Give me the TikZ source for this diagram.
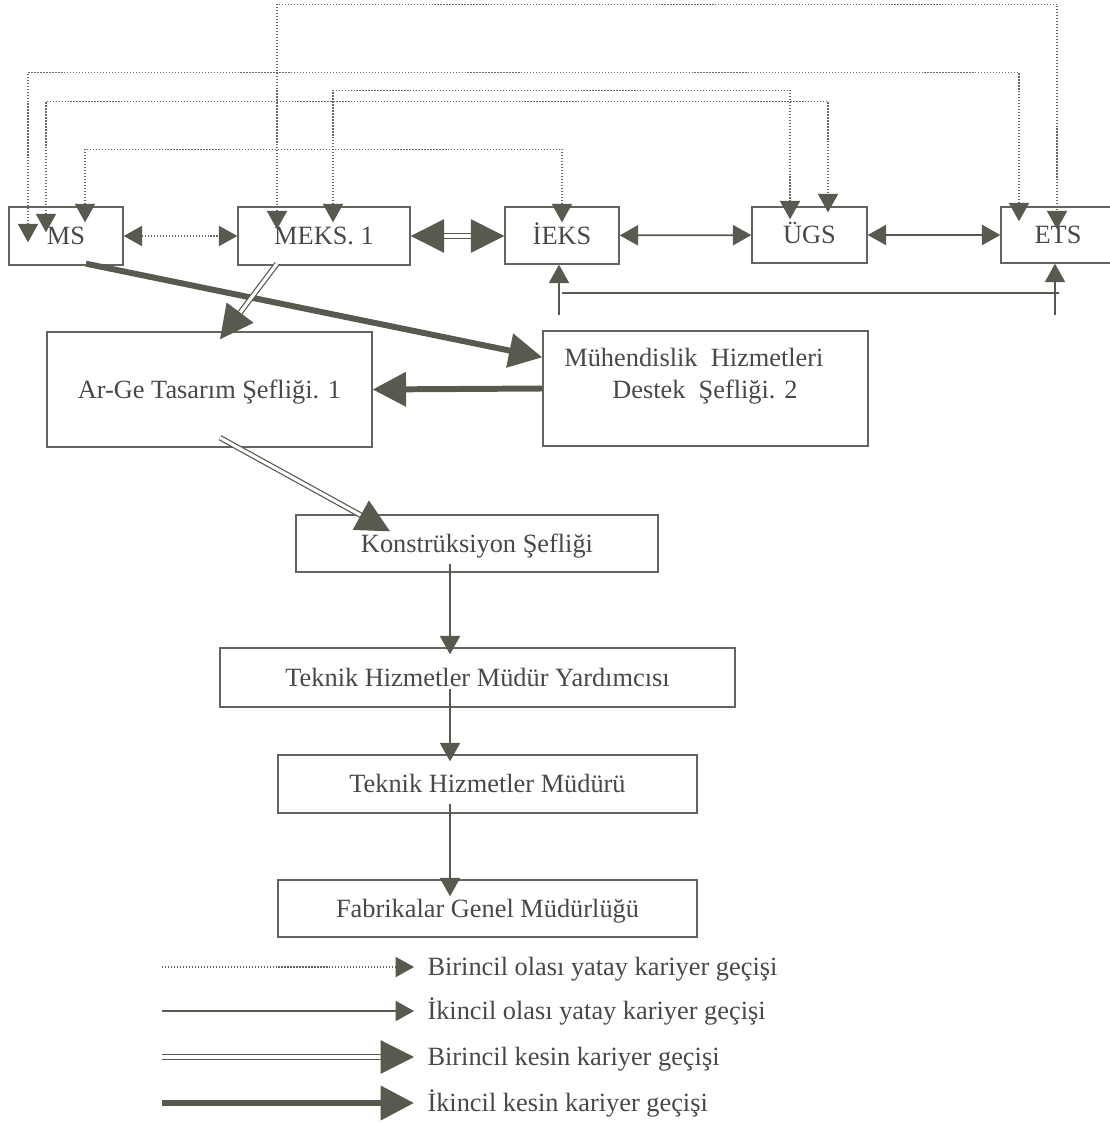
\documentclass[tikz,border=0pt]{standalone}
\usepackage{fontspec}
\setmainfont{Liberation Serif}
\usetikzlibrary{arrows.meta}
\definecolor{boxline}{RGB}{100,100,95}
\definecolor{tipfill}{RGB}{88,90,80}
\definecolor{txtgray}{RGB}{72,72,70}
\definecolor{dotline}{RGB}{105,105,100}
\begin{document}
\begin{tikzpicture}[x=0.02cm,y=-0.02cm,font=\fontsize{15}{18}\selectfont,
		smtri/.tip={Triangle[length=10.5pt,width=11.5pt,color=tipfill]},
		bigtri/.tip={Triangle[length=19pt,width=19pt,color=tipfill]},
		box/.style={draw=boxline,line width=0.8pt,text=txtgray,inner sep=0pt,text height=12pt,text depth=2pt},
		lbl/.style={text=txtgray,inner ysep=0pt,inner xsep=7.5pt,anchor=west,text height=12pt,text depth=2pt},
		dotarr/.style={draw=dotline,line width=0.8pt,dash pattern=on 0.7pt off 1pt},
		thinarr/.style={draw=tipfill,line width=0.8pt},
		dblarr/.style={draw=tipfill,line width=0.7pt,double=white,double distance=1.8pt},
		heavyarr/.style={draw=tipfill,line width=3.4pt}]
		\useasboundingbox (0,0) rectangle (1109,1124);
		\node[box,minimum width=2.28cm,minimum height=1.16cm] (ms) at (66,236) {MS};
		\node[box,minimum width=3.44cm,minimum height=1.16cm] (meks) at (324,236) {MEKS. 1};
		\node[box,minimum width=2.28cm,minimum height=1.14cm] (ieks) at (562,235.5) {İEKS};
		\node[box,minimum width=2.3cm,minimum height=1.12cm] (ugs) at (809.5,235) {ÜGS};
		\node[box,minimum width=2.28cm,minimum height=1.12cm] (ets) at (1058,235) {ETS};
		\node[box,minimum width=6.5cm,minimum height=2.3cm] (arge) at (209.5,389.5) {Ar-Ge Tasarım Şefliği. 1};
		\node[box,minimum width=6.5cm,minimum height=2.3cm] (muh) at (705.5,388.5) {};
		\node[text=txtgray,inner sep=0pt,align=left,anchor=west] (muhtxt) at (564,376) {Mühendislik\ \ Hizmetleri\\\hspace*{0.96cm}Destek\ \ Şefliği. 2};
		\node[box,minimum width=7.24cm,minimum height=1.14cm] (kon) at (477,543.5) {Konstrüksiyon Şefliği};
		\node[box,minimum width=10.3cm,minimum height=1.18cm] (tyard) at (477.5,677.5) {Teknik Hizmetler Müdür Yardımcısı};
		\node[box,minimum width=8.38cm,minimum height=1.16cm] (tmud) at (487.5,784) {Teknik Hizmetler Müdürü};
		\node[box,minimum width=8.38cm,minimum height=1.14cm] (fgm) at (487.5,908.5) {Fabrikalar Genel Müdürlüğü};
		\draw[dotarr,smtri-smtri] ([shift={(-47,23)}]meks.north) -- ++(0,-225) -| ([shift={(-1,23)}]ets.north);
		\draw[dotarr,smtri-smtri] ([shift={(-38,36)}]ms.north) -- ++(0,-170) -| ([shift={(-39,15)}]ets.north);
		\draw[dotarr,smtri-smtri] ([shift={(9,16)}]meks.north) -- ++(0,-132) -| ([shift={(-19.5,13)}]ugs.north);
		\draw[dotarr,smtri-smtri] ([shift={(-20,26)}]ms.north) -- ++(0,-131) -| ([shift={(18.5,6)}]ugs.north);
		\draw[dotarr,smtri-smtri] ([shift={(19,16)}]ms.north) -- ++(0,-73) -| ([shift={(0,16)}]ieks.north);
		\draw[dotarr,smtri-smtri] (ms.east) -- (meks.west);
		\draw[dblarr,bigtri-bigtri] (meks.east) -- (meks.east -| ieks.west);
		\draw[thinarr,line width=1pt,smtri-smtri] (ieks) -- (ugs);
		\draw[thinarr,line width=1pt,smtri-smtri] (ugs) -- (ets);
		\coordinate (ieksfoot) at (559,315);
		\coordinate (etsfoot) at (1055,315);
		\draw[thinarr,-smtri] (ieksfoot) -- (ieksfoot |- ieks.south);
		\draw[thinarr,-smtri] (etsfoot) -- (etsfoot |- ets.south);
		\draw[thinarr,line width=1pt] ([shift={(3,-22)}]ieksfoot) -- ([shift={(4,-22)}]etsfoot);
		\draw[heavyarr,-bigtri] ([shift={(20,-2)}]ms.south) -- ([shift={(0,27)}]muh.north west);
		\draw[dblarr,-bigtri] ([shift={(-47,-2)}]meks.south) -- ([shift={(10.5,8)}]arge.north);
		\draw[heavyarr,-bigtri] (muh.west) -- (arge.east);
		\draw[dblarr,-bigtri] ([shift={(10.5,-10)}]arge.south) -- ([shift={(-87,17)}]kon.north);
		\draw[thinarr,-smtri] ([shift={(-27,-9)}]kon.south) -- ([shift={(-27.5,7)}]tyard.north);
		\draw[thinarr,-smtri] ([shift={(-27.5,-19)}]tyard.south) -- ([shift={(-37.5,7)}]tmud.north);
		\draw[thinarr,-smtri] ([shift={(-37.5,-10)}]tmud.south) -- ([shift={(-37.5,17)}]fgm.north);
		\node[lbl] (leg1) at (414,967) {Birincil olası yatay kariyer geçişi};
		\node[lbl] (leg2) at (414,1011) {İkincil olası yatay kariyer geçişi};
		\node[lbl] (leg3) at (414,1057) {Birincil kesin kariyer geçişi};
		\node[lbl] (leg4) at (414,1103) {İkincil kesin kariyer geçişi};
		\coordinate (leg1a) at (162,967);
		\coordinate (leg2a) at (162,1011);
		\coordinate (leg3a) at (162,1057);
		\coordinate (leg4a) at (162,1103);
		\draw[dotarr,-smtri] (leg1a) -- (leg1.west);
		\draw[thinarr,-smtri] (leg2a) -- (leg2.west);
		\draw[dblarr,-bigtri] (leg3a) -- (leg3.west);
		\draw[heavyarr,-bigtri] (leg4a) -- (leg4.west);
	\end{tikzpicture}
\end{document}
